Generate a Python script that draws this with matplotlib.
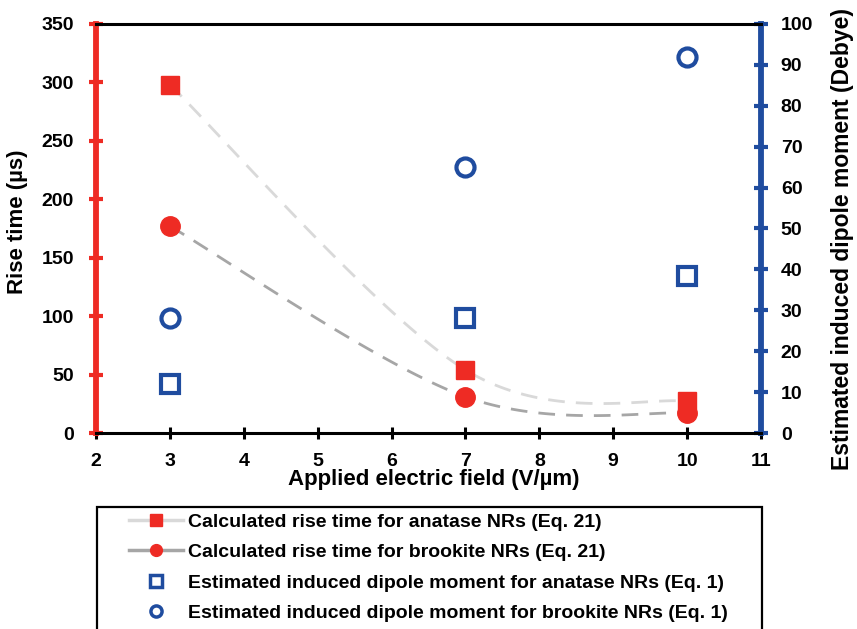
import numpy as np
import matplotlib
matplotlib.use("Agg")
import matplotlib.pyplot as plt
from matplotlib.lines import Line2D
from matplotlib.patches import Rectangle

plt.rcParams['font.family'] = ['Liberation Sans', 'DejaVu Sans']
plt.rcParams['font.weight'] = 'bold'

# Applied electric field (V/µm)
field = [3, 7, 10]
# Calculated rise time (µs)
rise_anatase = [298, 54, 27]
rise_brookite = [177, 31, 17]
# Estimated induced dipole moment (Debye)
dipole_anatase = [12, 28, 38.5]
dipole_brookite = [28, 65, 92]

x_ticks = list(range(2, 12))
left_ticks = list(range(0, 351, 50))
right_ticks = list(range(0, 101, 10))

RED = '#EE2B24'
BLUE = '#1F4C9F'
LIGHT = '#D9D9D9'
DARK = '#A6A6A6'

W, H = 857, 629
AX_L, AX_R, AX_T, AX_B = 96, 761, 24, 433


def smooth_curve(xs, ys, xspan, yspan, n=60):
    """Bezier smoothing (Catmull-Rom tangents) computed in normalised axis space."""
    px = np.asarray(xs, float) / xspan
    py = np.asarray(ys, float) / yspan
    pts = np.column_stack([px, py])
    ext = np.vstack([pts[0], pts, pts[-1]])
    out = []
    for i in range(1, len(ext) - 2):
        p0, p1, p2, p3 = ext[i - 1], ext[i], ext[i + 1], ext[i + 2]
        c1 = p1 + (p2 - p0) / 6.0
        c2 = p2 - (p3 - p1) / 6.0
        t = np.linspace(0, 1, n)[:, None]
        seg = ((1 - t) ** 3 * p1 + 3 * (1 - t) ** 2 * t * c1
               + 3 * (1 - t) * t ** 2 * c2 + t ** 3 * p2)
        out.append(seg if i == 1 else seg[1:])
    out = np.vstack(out)
    return out[:, 0] * xspan, out[:, 1] * yspan


fig = plt.figure(figsize=(W / 100, H / 100), dpi=100)
ax = fig.add_axes([AX_L / W, 1 - AX_B / H, (AX_R - AX_L) / W, (AX_B - AX_T) / H])
ax2 = ax.twinx()

ax.set_xlim(2, 11)
ax.set_ylim(0, 350)
ax2.set_ylim(0, 100)

xpx = 9 / (AX_R - AX_L)
ypx = 350 / (AX_B - AX_T)

# Smoothed dashed trend lines through the rise-time points
sx, sy = smooth_curve(field, rise_anatase, xpx, ypx)
ax.plot(sx, sy, color=LIGHT, lw=2, dashes=(6, 4), zorder=2)
sx, sy = smooth_curve(field, rise_brookite, xpx, ypx)
ax.plot(sx, sy, color=DARK, lw=2, dashes=(6, 4), zorder=2)

ax.plot(field, rise_anatase, 's', color=RED, ms=13.5, mec=RED, zorder=4)
ax.plot(field, rise_brookite, 'o', color=RED, ms=14, mec=RED, zorder=4)

ax2.plot(field, dipole_anatase, 's', mfc='none', mec=BLUE, mew=3, ms=13)
ax2.plot(field, dipole_brookite, 'o', mfc='none', mec=BLUE, mew=3, ms=13)

ax.set_xticks(x_ticks)
ax.set_yticks(left_ticks)
ax2.set_yticks(right_ticks)

for s in ['top', 'right', 'left', 'bottom']:
    ax.spines[s].set_visible(False)
ax2.spines['top'].set_color('black')
ax2.spines['top'].set_linewidth(2.2)
ax2.spines['bottom'].set_color('black')
ax2.spines['bottom'].set_linewidth(2.2)
ax2.spines['left'].set_color(RED)
ax2.spines['left'].set_linewidth(4.2)
ax2.spines['right'].set_color(BLUE)
ax2.spines['right'].set_linewidth(4.2)

ax.tick_params(axis='x', direction='inout', length=9, width=2.2, color='black',
               labelsize=14, pad=10)
ax.tick_params(axis='y', direction='inout', length=9.5, width=3, color=RED,
               labelsize=14, pad=11)
ax2.tick_params(axis='y', direction='inout', length=9.5, width=3, color=BLUE,
                labelsize=14, pad=9.5)
for lab in ax.get_xticklabels() + ax.get_yticklabels() + ax2.get_yticklabels():
    lab.set_fontweight('bold')

ax.set_xlabel('Applied electric field (V/µm)', fontsize=16, fontweight='bold')
ax.set_ylabel('Rise time (µs)', fontsize=16, fontweight='bold')
ax2.set_ylabel('Estimated induced dipole moment (Debye)', fontsize=16.5,
               fontweight='bold', rotation=90)
ax.xaxis.set_label_coords((434 - AX_L) / (AX_R - AX_L), (AX_B - 479) / (AX_B - AX_T))
ax.xaxis.label.set_va('center')
ax.yaxis.set_label_coords((18 - AX_L) / (AX_R - AX_L), (AX_B - 222) / (AX_B - AX_T))
ax.yaxis.label.set_va('center')
ax2.yaxis.set_label_coords((843 - AX_L) / (AX_R - AX_L), (AX_B - 239) / (AX_B - AX_T))
ax2.yaxis.label.set_va('center')

# Legend frame below the plot area
fig.add_artist(Rectangle((97 / W, -0.02), (762 - 97) / W, 0.02 + (H - 507) / H,
                         transform=fig.transFigure, fill=False,
                         edgecolor='black', linewidth=1.6, zorder=1))

handles = [
    Line2D([], [], color=LIGHT, lw=2.5, marker='s', mfc=RED, mec=RED, ms=8),
    Line2D([], [], color=DARK, lw=2.5, marker='o', mfc=RED, mec=RED, ms=8.5),
    Line2D([], [], ls='none', marker='s', mfc='none', mec=BLUE, mew=2.5, ms=8),
    Line2D([], [], ls='none', marker='o', mfc='none', mec=BLUE, mew=2.5, ms=8),
]
labels = [
    'Calculated rise time for anatase NRs (Eq. 21)',
    'Calculated rise time for brookite NRs (Eq. 21)',
    'Estimated induced dipole moment for anatase NRs (Eq. 1)',
    'Estimated induced dipole moment for brookite NRs (Eq. 1)',
]
leg = fig.legend(handles, labels, loc='upper left',
                 bbox_to_anchor=(129 / W, 1 - 513 / H),
                 prop={'weight': 'bold', 'size': 14}, frameon=False,
                 handlelength=2.8, handletextpad=0.26, labelspacing=0.66,
                 borderpad=0, borderaxespad=0)

fig.savefig('out.png', dpi=100)
